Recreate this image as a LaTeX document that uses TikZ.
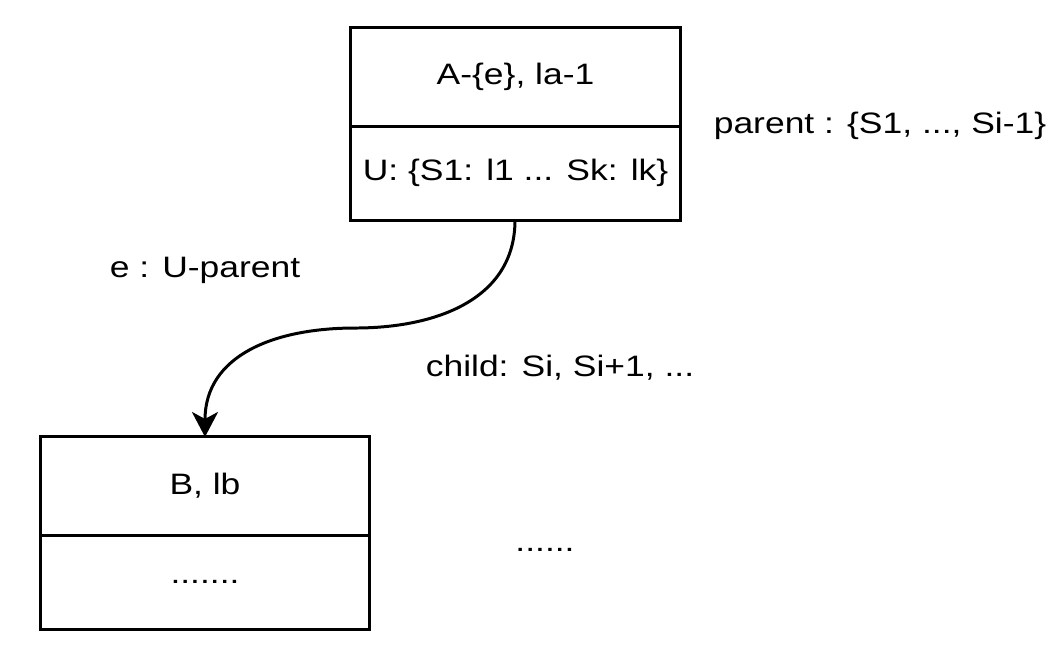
\documentclass[tikz,border=0pt]{standalone}
\usepackage{fontspec}
\setmainfont{Liberation Sans}[FakeStretch=1.2]
\usetikzlibrary{arrows.meta}

\begin{document}
\begin{tikzpicture}[x=0.01cm, y=-0.01cm, line width=0.85pt, font=\fontsize{8.4pt}{10pt}\selectfont,
    cell/.style={draw, rectangle, inner sep=0pt, outer sep=0pt, minimum width=3.29cm},
    lbl/.style={inner sep=0pt}]
        \useasboundingbox (0,0) rectangle (1060,650);

        \node[cell, minimum height=0.98cm] (A) at (515.5, 77) {A-\{e\}, la-1};
        \node[cell, minimum height=0.94cm, anchor=north] (Au) at (A.south) {U: \{S1: l1 ... Sk: lk\}};
        \node[cell, minimum height=0.98cm] (B) at (205, 486) {B, lb};
        \node[cell, minimum height=0.94cm, anchor=north] (Bd) at (B.south) {.......};

        \node[lbl] (e) at (205, 270) {e : U-parent};
        \node[lbl] (child) at (560, 368) {child: Si, Si+1, ...};
        \node[lbl] (parent) at (880, 126) {parent : \{S1, ..., Si-1\}};
        \node[lbl] (dots) at (545, 550) {......};

        \draw[-{Stealth[length=0.25cm, width=0.26cm, inset=0.07cm]}] (Au.south -| 515, 0) .. controls (515, 300) and (435, 328) .. (355, 328) .. controls (275, 328) and (205, 355) .. (B.north);
    \end{tikzpicture}
\end{document}
